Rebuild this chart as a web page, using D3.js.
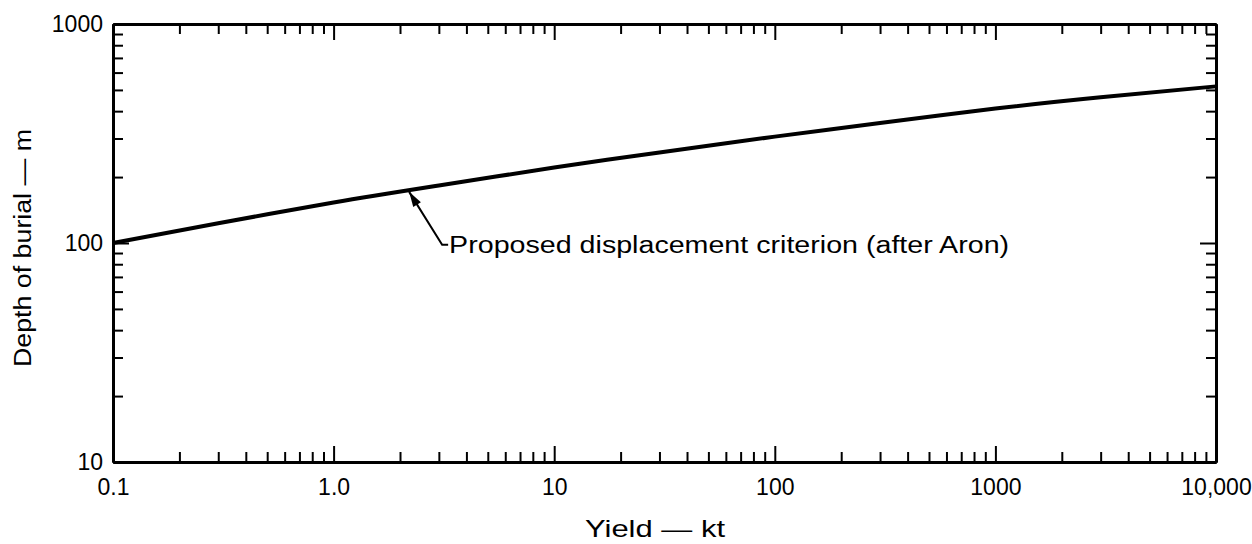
<!DOCTYPE html>
<html>
<head>
<meta charset="utf-8">
<script src="https://cdn.jsdelivr.net/npm/d3@7/dist/d3.min.js"></script>
<style>
  html, body { margin: 0; padding: 0; background: #fff; }
  svg { display: block; font-family: "Liberation Sans", Arial, sans-serif; }
</style>
</head>
<body>
<svg id="chart" width="1252" height="544"></svg>
<script>
// ---- Data ----
const yieldKt = [0.1, 0.3, 1, 3, 10, 30, 100, 300, 1000, 3000, 10000];
const depthM  = [100, 123, 153, 183, 221, 259, 306, 353, 411, 463, 519];
const xMajorTicks = [0.1, 1, 10, 100, 1000, 10000];
const xTickLabels = ["0.1", "1.0", "10", "100", "1000", "10,000"];
const yMajorTicks = [10, 100, 1000];
const yTickLabels = ["10", "100", "1000"];
const annotationPoint = [2.2, 173];
const annotationText = "Proposed displacement criterion (after Aron)";
const xTitle = "Yield \u2014 kt";
const yTitle = "Depth of burial \u2014 m";

// ---- Layout ----
const L = 113, R = 1216, T = 24, B = 462;
const svg = d3.select("#chart");
const x = d3.scaleLog().domain([0.1, 10000]).range([L, R]);
const y = d3.scaleLog().domain([10, 1000]).range([B, T]);

function minorTicks(lo, hi) {
  const out = [];
  for (let d = lo; d < hi; d *= 10) for (let k = 2; k <= 9; k++) out.push(+(d * k).toPrecision(3));
  return out;
}
const xMinor = minorTicks(0.1, 10000);
const yMinor = minorTicks(10, 1000);

const MAJ = 16, MIN = 10, FS = 23;

function styleAxis(g) {
  g.select(".domain").attr("stroke", "#000").attr("stroke-width", 3);
  g.selectAll(".tick line").attr("stroke", "#000").attr("stroke-width", 2);
  g.selectAll(".tick text").attr("fill", "#000").attr("font-size", FS);
}

// Bottom
svg.append("g").attr("transform", `translate(0,${B})`)
  .call(d3.axisBottom(x).tickValues(xMinor).tickSizeInner(-MIN).tickSizeOuter(0).tickFormat(""))
  .call(styleAxis);
svg.append("g").attr("transform", `translate(0,${B})`)
  .call(d3.axisBottom(x).tickValues(xMajorTicks).tickSizeInner(-MAJ).tickSizeOuter(0).tickPadding(17)
    .tickFormat((d, i) => xTickLabels[i]))
  .call(styleAxis);
// Top
svg.append("g").attr("transform", `translate(0,${T})`)
  .call(d3.axisTop(x).tickValues(xMinor).tickSizeInner(-MIN).tickSizeOuter(0).tickFormat(""))
  .call(styleAxis);
svg.append("g").attr("transform", `translate(0,${T})`)
  .call(d3.axisTop(x).tickValues(xMajorTicks).tickSizeInner(-MAJ).tickSizeOuter(0).tickFormat(""))
  .call(styleAxis);
// Left
svg.append("g").attr("transform", `translate(${L},0)`)
  .call(d3.axisLeft(y).tickValues(yMinor).tickSizeInner(-MIN).tickSizeOuter(0).tickFormat(""))
  .call(styleAxis);
svg.append("g").attr("transform", `translate(${L},0)`)
  .call(d3.axisLeft(y).tickValues(yMajorTicks).tickSizeInner(-MAJ).tickSizeOuter(0).tickPadding(10)
    .tickFormat((d, i) => yTickLabels[i]))
  .call(styleAxis);
// Right
svg.append("g").attr("transform", `translate(${R},0)`)
  .call(d3.axisRight(y).tickValues(yMinor).tickSizeInner(-MIN).tickSizeOuter(0).tickFormat(""))
  .call(styleAxis);
svg.append("g").attr("transform", `translate(${R},0)`)
  .call(d3.axisRight(y).tickValues(yMajorTicks).tickSizeInner(-MAJ).tickSizeOuter(0).tickFormat(""))
  .call(styleAxis);

// Curve
const data = yieldKt.map((v, i) => [v, depthM[i]]);
svg.append("path").datum(data)
  .attr("fill", "none").attr("stroke", "#000").attr("stroke-width", 4)
  .attr("d", d3.line().x(d => x(d[0])).y(d => y(d[1])).curve(d3.curveNatural));

// Annotation with arrow
const tx = x(annotationPoint[0]), ty = y(annotationPoint[1]) + 1;
const ex = tx + 33, ey = ty + 53;
svg.append("path")
  .attr("d", `M${tx},${ty} L${ex},${ey} L${ex + 6},${ey}`)
  .attr("fill", "none").attr("stroke", "#000").attr("stroke-width", 2);
const ang = Math.atan2(ey - ty, ex - tx);
const hl = 15, hw = 4.5;
const bx = tx + hl * Math.cos(ang), by = ty + hl * Math.sin(ang);
svg.append("path")
  .attr("d", `M${tx},${ty} L${bx - hw * Math.sin(ang)},${by + hw * Math.cos(ang)} L${bx + hw * Math.sin(ang)},${by - hw * Math.cos(ang)} Z`)
  .attr("fill", "#000");
svg.append("text")
  .attr("x", ex + 7).attr("y", ey).attr("dy", "0.35em")
  .attr("font-size", FS).attr("fill", "#000")
  .attr("textLength", 560).attr("lengthAdjust", "spacingAndGlyphs")
  .text(annotationText);

// Titles
svg.append("text")
  .attr("x", 655).attr("y", 529).attr("dy", "0.35em").attr("text-anchor", "middle")
  .attr("font-size", 24).attr("fill", "#000")
  .attr("textLength", 140).attr("lengthAdjust", "spacingAndGlyphs")
  .text(xTitle);
svg.append("text")
  .attr("transform", `translate(23,248) rotate(-90)`)
  .attr("dy", "0.35em").attr("text-anchor", "middle")
  .attr("font-size", 23).attr("fill", "#000")
  .attr("textLength", 238).attr("lengthAdjust", "spacingAndGlyphs")
  .text(yTitle);
</script>
</body>
</html>
